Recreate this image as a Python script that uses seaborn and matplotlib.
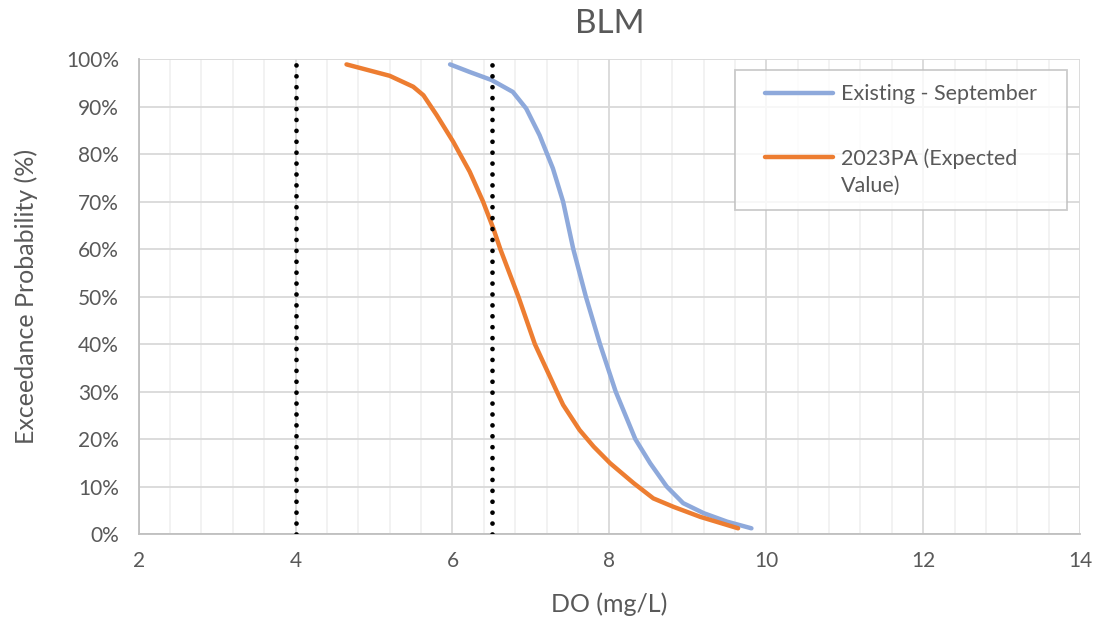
import matplotlib
matplotlib.use("Agg")
import matplotlib.pyplot as plt
from matplotlib.ticker import MultipleLocator, PercentFormatter
import numpy as np
import pandas as pd
import seaborn as sns

# Exceedance curves: DO (mg/L) vs exceedance probability (%)
existing_do = [5.97, 6.22, 6.50, 6.77, 6.94, 7.11, 7.28, 7.41, 7.54, 7.70,
               7.88, 8.08, 8.33, 8.52, 8.73, 8.94, 9.20, 9.50, 9.81]
existing_p = [98.9, 97.3, 95.6, 93.1, 89.6, 84.0, 77.0, 70.0, 60.0, 50.0,
              40.0, 30.0, 20.0, 14.9, 10.0, 6.5, 4.4, 2.6, 1.2]

pa_do = [4.65, 5.20, 5.50, 5.63, 5.80, 6.01, 6.22, 6.39, 6.52, 6.61, 6.84,
         7.05, 7.33, 7.41, 7.62, 7.80, 8.01, 8.31, 8.56, 8.82, 9.16, 9.64]
pa_p = [98.9, 96.5, 94.2, 92.4, 88.2, 82.6, 76.3, 70.0, 64.4, 60.0, 50.0,
        40.0, 30.0, 27.2, 21.9, 18.4, 14.9, 10.7, 7.5, 5.7, 3.6, 1.2]

series_names = ["Existing - September", "2023PA (Expected\nValue)"]
series_colors = ["#8EA9DB", "#ED7D31"]

# Reference DO thresholds
thresholds = [4.0, 6.5]

df = pd.concat([
    pd.DataFrame({"DO": existing_do, "P": existing_p, "Series": series_names[0]}),
    pd.DataFrame({"DO": pa_do, "P": pa_p, "Series": series_names[1]}),
], ignore_index=True)

sns.set_theme(style="white")
plt.rcParams["font.family"] = ["Lato", "DejaVu Sans"]
text_color = "#595959"

fig = plt.figure(figsize=(10.98, 6.21), dpi=100)
ax = fig.add_axes([0.1262, 0.1401, 0.8576, 0.7646])

sns.lineplot(data=df, x="DO", y="P", hue="Series", palette=series_colors,
             hue_order=series_names, sort=False, estimator=None,
             linewidth=3.2, ax=ax, zorder=3)
for ln in ax.get_lines():
    ln.set_solid_joinstyle("round")
    ln.set_solid_capstyle("round")

for t in thresholds:
    ax.plot([t, t], [0, 100], color="black", linestyle=(0, (0.01, 2.3)),
            linewidth=3.4, dash_capstyle="round", zorder=4)

ax.set_xlim(2, 14)
ax.set_ylim(0, 100)
ax.xaxis.set_major_locator(MultipleLocator(2))
ax.xaxis.set_minor_locator(MultipleLocator(0.4))
ax.yaxis.set_major_locator(MultipleLocator(10))
ax.yaxis.set_major_formatter(PercentFormatter(decimals=0))

ax.grid(which="major", axis="both", color="#D9D9D9", linewidth=1.3, zorder=0)
ax.grid(which="minor", axis="x", color="#EFEFEF", linewidth=1.1, zorder=0)
ax.set_axisbelow(True)

for side in ["top", "right"]:
    ax.spines[side].set_visible(False)
for side in ["left", "bottom"]:
    ax.spines[side].set_color("#BFBFBF")
    ax.spines[side].set_linewidth(1.3)

ax.tick_params(axis="both", which="both", length=0, labelsize=15,
               labelcolor=text_color)
ax.tick_params(axis="y", pad=14)
ax.tick_params(axis="x", pad=12)

ax.set_xlabel("DO (mg/L)", fontsize=18, color=text_color, labelpad=16)
ax.set_ylabel("Exceedance Probability (%)", fontsize=18, color=text_color,
              labelpad=20)
ax.set_title("BLM", fontsize=24, color=text_color, pad=19)

leg = ax.legend(loc="upper left", bbox_to_anchor=(0.633, 0.5, 0.353, 0.477),
                mode="expand",
                fontsize=15.5, frameon=True, fancybox=False,
                handlelength=3.9, handletextpad=0.4, labelspacing=2.05,
                borderpad=0.65, borderaxespad=0)
leg.get_frame().set_edgecolor("#BFBFBF")
leg.get_frame().set_linewidth(1.3)
for txt in leg.get_texts():
    txt.set_color(text_color)
    txt.set_linespacing(1.45)
for i, line in enumerate(leg.get_lines()):
    line.set_linewidth(3.2)
    xd = np.asarray(line.get_xdata(), dtype=float)
    # inset the swatch from the frame edge
    line.set_xdata([xd[0] + 11.5, xd[-1]])
    yd = np.asarray(line.get_ydata(), dtype=float)
    if "\n" in series_names[i]:
        # align the swatch with the first line of a wrapped label
        yd = yd + 11
    line.set_ydata([yd[0], yd[-1]])

fig.savefig("out.png", dpi=100, facecolor="white")
